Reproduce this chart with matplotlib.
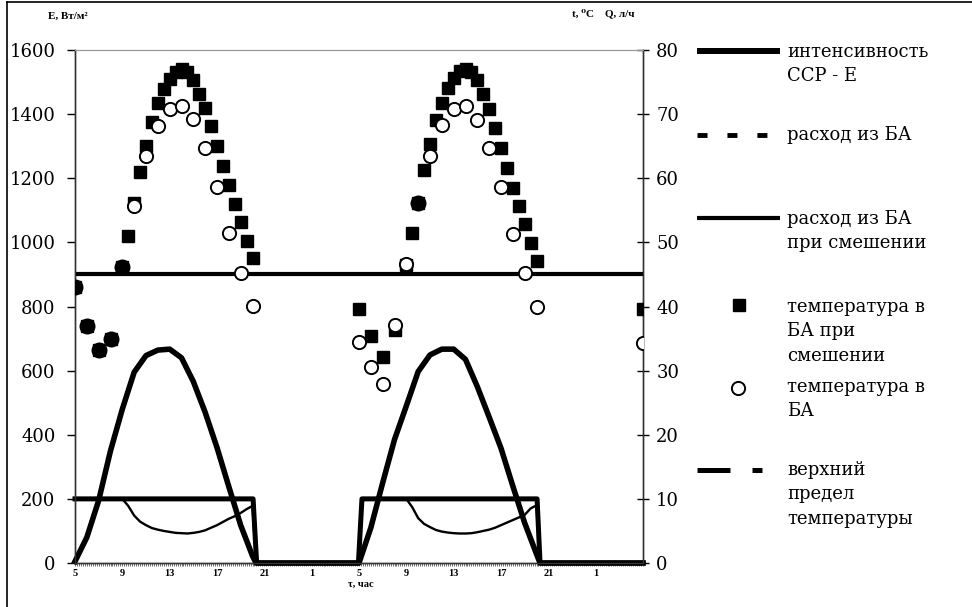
"""Solar collector + storage tank (БА) over two days: irradiance, flow and tank temperature."""

import numpy as np
import matplotlib
matplotlib.use("Agg")
import matplotlib.pyplot as plt
from matplotlib.lines import Line2D
from matplotlib.ticker import MultipleLocator

# hours counted from 5:00 of the first day (29 = 5:00 next day, 53 = 5:00 day after)
tick_hours = [5, 9, 13, 17, 21, 25, 29, 33, 37, 41, 45, 49]
tick_labels = ["5", "9", "13", "17", "21", "1", "5", "9", "13", "17", "21", "1"]

# solar irradiance E, W/m2 (left axis)
e_hours = [5, 6, 7, 8, 9, 10, 11, 12, 13, 14, 15, 16, 17, 18, 19, 20, 20.3,
           29, 30, 31, 32, 33, 34, 35, 36, 37, 38, 39, 40, 41, 42, 43, 44, 44.3, 53]
e_values = [5, 80, 195, 350, 480, 595, 647, 664, 667, 640, 566, 470, 360, 238, 118, 22, 0,
            0, 110, 250, 385, 490, 597, 649, 667, 667, 635, 550, 455, 358, 240, 125, 28, 0, 0]

# flow from tank, l/h (right axis)
q_hours = [5, 20.05, 20.35, 28.95, 29.25, 44.05, 44.3, 53]
q_values = [10, 10, 0, 0, 10, 10, 0, 0]

# flow from tank with mixing, l/h
mix_hours = [5, 9, 9.5, 10, 10.5, 11, 11.5, 12, 12.5, 13, 13.5, 14, 14.5, 15, 15.5,
             16, 16.5, 17, 17.5, 18, 18.5, 19, 19.5, 20, 20.3,
             28.95, 29.25, 33, 33.5, 34, 34.5, 35, 35.5, 36, 36.5, 37, 37.5, 38, 38.5,
             39, 39.5, 40, 40.5, 41, 41.5, 42, 42.5, 43, 43.5, 44, 44.3, 53]
mix_values = [10, 10, 8.9, 7.4, 6.45, 5.9, 5.45, 5.2, 5.0, 4.85, 4.7, 4.65, 4.6, 4.7, 4.85,
              5.1, 5.5, 5.9, 6.4, 6.9, 7.3, 7.8, 8.4, 8.9, 0,
              0, 10, 10, 8.7, 7.0, 6.1, 5.6, 5.15, 4.9, 4.75, 4.65, 4.6, 4.6, 4.65,
              4.8, 5.0, 5.2, 5.5, 5.9, 6.3, 6.7, 7.1, 7.5, 8.5, 9.0, 0, 0]

# tank temperature with mixing, C (squares)
sq_hours = [5, 6, 7, 8, 9, 9.5, 10, 10.5, 11, 11.5, 12, 12.5, 13, 13.5, 14, 14.5, 15,
            15.5, 16, 16.5, 17, 17.5, 18, 18.5, 19, 19.5, 20,
            29, 30, 31, 32, 33, 33.5, 34, 34.5, 35, 35.5, 36, 36.5, 37, 37.5, 38, 38.5,
            39, 39.5, 40, 40.5, 41, 41.5, 42, 42.5, 43, 43.5, 44, 53]
sq_temp = [43.0, 36.9, 33.2, 34.9, 46.1, 51.0, 56.1, 60.9, 65.1, 68.8, 71.7, 73.9, 75.4,
           76.6, 77.0, 76.6, 75.3, 73.2, 70.9, 68.1, 65.0, 61.9, 58.9, 56.0, 53.1, 50.2, 47.5,
           39.6, 35.4, 32.1, 36.3, 46.5, 51.4, 56.1, 61.3, 65.3, 69.1, 71.8, 74.0, 75.6,
           76.8, 77.0, 76.5, 75.3, 73.2, 70.8, 67.8, 64.7, 61.6, 58.5, 55.7, 52.8, 49.9,
           47.1, 39.6]

# tank temperature without mixing, C (circles)
ci_hours = [5, 6, 7, 8, 9, 10, 11, 12, 13, 14, 15, 16, 17, 18, 19, 20,
            29, 30, 31, 32, 33, 34, 35, 36, 37, 38, 39, 40, 41, 42, 43, 44, 53]
ci_temp = [43.0, 36.9, 33.2, 34.9, 46.1, 55.6, 63.4, 68.2, 70.8, 71.3, 69.2, 64.7, 58.7,
           51.4, 45.2, 40.1,
           34.4, 30.5, 27.9, 37.1, 46.7, 56.1, 63.5, 68.3, 70.8, 71.3, 69.1, 64.7, 58.7,
           51.3, 45.2, 40.0, 34.3]

# upper temperature limit, C
limit_hours = [5, 53]
limit_temp = [45, 45]

W, H = 972, 607
fig = plt.figure(figsize=(W / 100, H / 100), dpi=100)
ax = fig.add_axes([75 / W, 1 - 563 / H, (643 - 75) / W, (563 - 50) / H])
ax2 = ax.twinx()

serif = ["DejaVu Serif"]
small = ["Liberation Serif", "DejaVu Serif"]

ax.plot(e_hours, e_values, color="black", lw=4, solid_joinstyle="round",
        clip_on=False, zorder=3)
ax.set_xlim(5, 53)
ax.set_ylim(0, 1600)
ax.set_yticks(range(0, 1601, 200))

ax2.plot(limit_hours, limit_temp, color="black", lw=3, zorder=2)
ax2.plot(q_hours, q_values, color="black", lw=3.6, clip_on=False, zorder=2)
ax2.plot(mix_hours, mix_values, color="black", lw=1.7, zorder=2)
ax2.plot(sq_hours, sq_temp, "s", color="black", ms=9, zorder=4)
ax2.plot(ci_hours, ci_temp, "o", mfc="white", mec="black", mew=1.4, ms=9.5, zorder=5)

# where both temperatures coincide the markers merge into a black blob
sq_lookup = dict(zip(sq_hours, sq_temp))
blob_h = [h for h, t in zip(ci_hours, ci_temp) if h in sq_lookup and abs(sq_lookup[h] - t) < 0.2]
blob_t = [sq_lookup[h] for h in blob_h]
ax2.plot(blob_h, blob_t, "o", color="black", ms=10.5, zorder=6)
ax2.set_ylim(0, 80)
ax2.set_yticks(range(0, 81, 10))

# ticks and spines
ax.set_xticks(tick_hours)
ax.set_xticklabels(tick_labels, family=small, fontsize=7.5, fontweight="bold")
ax.xaxis.set_minor_locator(MultipleLocator(1 / 6))
ax.tick_params(axis="x", which="both", length=2.5, width=0.6, color="#555555", pad=1.5)
ax.tick_params(axis="y", length=6, width=1, pad=8, labelsize=13)
ax2.tick_params(axis="y", direction="inout", length=9, width=1, pad=5, labelsize=13)
for a in (ax, ax2):
    for lab in a.get_yticklabels():
        lab.set_family(serif)
    a.spines["top"].set_color("#999999")
    for s in ("left", "right", "bottom"):
        a.spines[s].set_color("#333333")
        a.spines[s].set_linewidth(1)

# axis titles
fig.text(68 / W, 1 - 16 / H, "E, Вт/м²", family=small, fontsize=8, fontweight="bold",
         ha="center", va="center")
fig.text(603 / W, 1 - 13 / H, "t, ⁰C    Q, л/ч", family=small, fontsize=8,
         fontweight="bold", ha="center", va="center")
fig.text(361 / W, 1 - 584 / H, "τ, час", family=small, fontsize=7.5, fontweight="bold",
         ha="center", va="center")

# frame lines of the original sheet
fig.add_artist(Line2D([7 / W, 7 / W], [0, 1 - 2 / H], color="black", lw=1.2))
fig.add_artist(Line2D([7 / W, 1], [1 - 2 / H, 1 - 2 / H], color="black", lw=1.2))


# legend drawn by hand to follow the original layout
def px(x, y):
    return x / W, 1 - y / H


def leg_line(x0, x1, y, **kw):
    (a, b), (c, _) = px(x0, y), px(x1, y)
    fig.add_artist(Line2D([a, c], [b, b], color="black", **kw))


def leg_text(y, s):
    x, yy = px(787, y - 12)
    fig.text(x, yy, s, family=serif, fontsize=13, va="top", ha="left", linespacing=1.45)


leg_line(697, 780, 51, lw=4.3, solid_capstyle="butt")
leg_text(55, "интенсивность\nССР - Е")
leg_line(697, 767, 135, lw=3.5, linestyle=(0, (2.06, 4.1)))
leg_text(138, "расход из БА")
leg_line(697, 780, 218, lw=3, solid_capstyle="butt")
leg_text(222, "расход из БА\nпри смешении")
fig.add_artist(Line2D([px(739, 305)[0]], [px(739, 305)[1]], marker="s", color="black",
                      ms=9, linestyle="none"))
leg_text(310, "температура в\nБА при\nсмешении")
fig.add_artist(Line2D([px(738, 388)[0]], [px(738, 388)[1]], marker="o", mfc="white",
                      mec="black", mew=1.4, ms=9.5, linestyle="none"))
leg_text(390, "температура в\nБА")
leg_line(697, 762, 470, lw=3.6, linestyle=(0, (6.6, 4.4, 2.0, 10)))
leg_text(473, "верхний\nпредел\nтемпературы")

fig.savefig("out.png", dpi=100, facecolor="white")
